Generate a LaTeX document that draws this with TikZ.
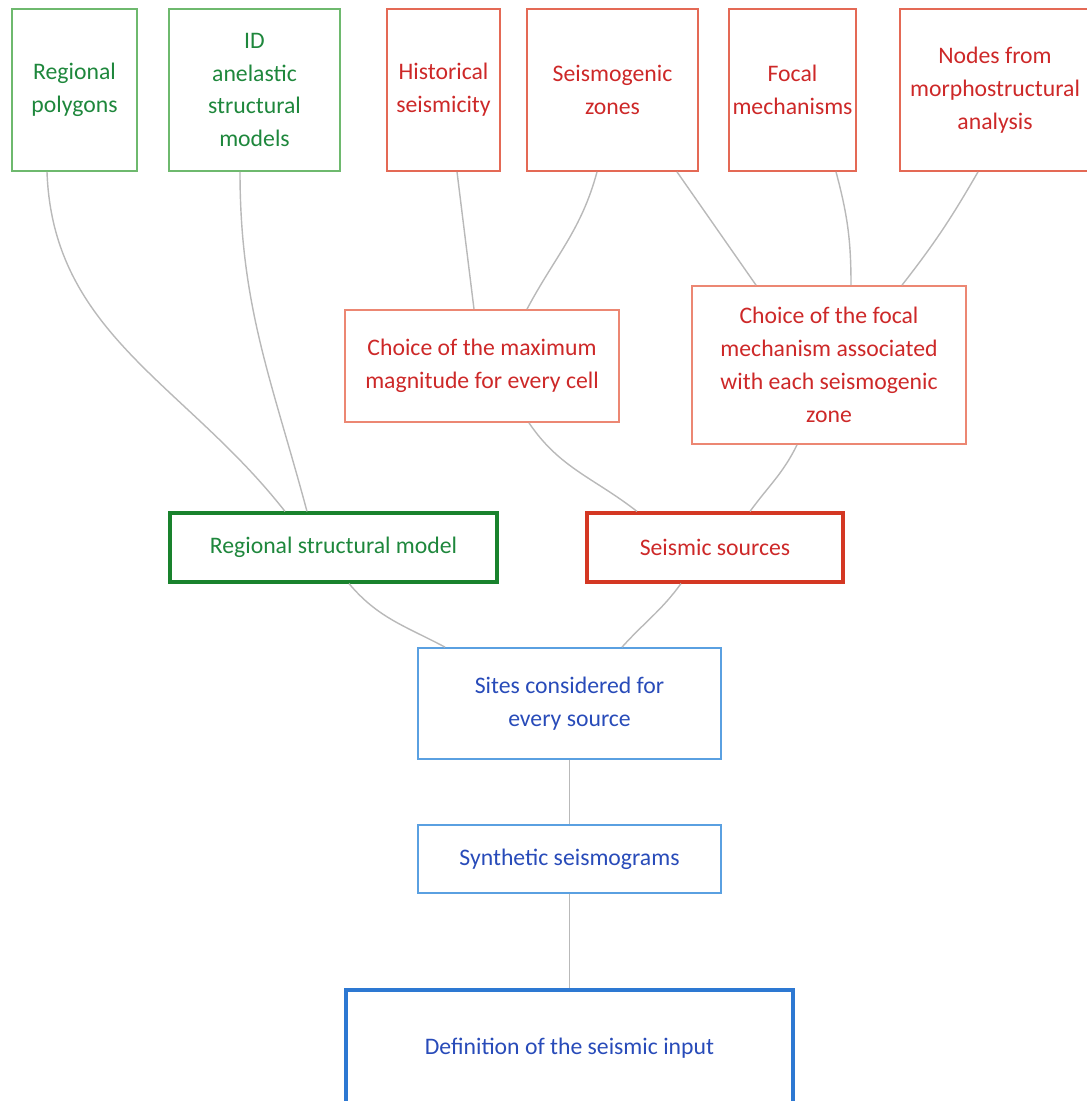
\documentclass[tikz,border=0pt]{standalone}
\usepackage{fontspec}
\setmainfont{Carlito}
\usepackage{xcolor}
\usepackage{tikz}
\usetikzlibrary{positioning, calc}

\definecolor{grnline}{RGB}{110,185,110}
\definecolor{grndark}{RGB}{25,130,45}
\definecolor{grntext}{RGB}{30,135,60}
\definecolor{redline}{RGB}{228,105,85}
\definecolor{redlight}{RGB}{236,135,115}
\definecolor{reddark}{RGB}{212,55,35}
\definecolor{redtext}{RGB}{205,40,40}
\definecolor{blueline}{RGB}{90,160,225}
\definecolor{bluedark}{RGB}{45,120,210}
\definecolor{bluetext}{RGB}{40,75,185}
\definecolor{linkgray}{RGB}{185,185,185}

\begin{document}
\begin{tikzpicture}[
    x=0.02cm, y=0.02cm,
    box/.style={rectangle, draw, align=center, inner sep=2pt, font=\fontsize{13.5}{18.7}\selectfont, line width=1pt},
    top/.style={box, minimum height=3.24cm},
    heavy/.style={box, line width=1.8pt},
    link/.style={draw=linkgray, line width=0.8pt}
]
\useasboundingbox (0,0) rectangle (1086,-1101);

% Top row - input data
\node[top, draw=grnline, text=grntext, minimum width=2.5cm] (poly) at (74.5,-90) {Regional\\polygons};
\node[top, draw=grnline, text=grntext, minimum width=3.42cm] (model1d) at (254.5,-90) {ID\\anelastic\\structural\\models};
\node[top, draw=redline, text=redtext, minimum width=2.26cm] (hist) at (443.5,-90) {Historical\\seismicity};
\node[top, draw=redline, text=redtext, minimum width=3.42cm] (zones) at (612.5,-90) {Seismogenic\\zones};
\node[top, draw=redline, text=redtext, minimum width=2.46cm] (focal) at (792.5,-90) {Focal\\mechanisms};
\node[top, draw=redline, text=redtext, minimum width=3.8cm] (morpho) at (995,-90) {Nodes from\\morphostructural\\analysis};

% Middle row - choices
\node[box, draw=redlight, text=redtext, minimum width=5.48cm, minimum height=2.24cm] (maxmag) at (482,-366) {Choice of the maximum\\magnitude for every cell};
\node[box, draw=redlight, text=redtext, minimum width=5.48cm, minimum height=3.16cm] (focalzone) at (829,-365) {Choice of the focal\\mechanism associated\\with each seismogenic\\zone};

% Models and sources
\node[heavy, draw=grndark, text=grntext, minimum width=6.54cm, minimum height=1.38cm] (regmodel) at (333.5,-547.5) {Regional structural model};
\node[heavy, draw=reddark, text=redtext, minimum width=5.12cm, minimum height=1.38cm] (sources) at (715,-547.5) {Seismic sources};

% Bottom chain
\node[box, draw=blueline, text=bluetext, minimum width=6.06cm, minimum height=2.22cm] (sites) at (569.5,-703.5) {Sites considered for\\every source};
\node[box, draw=blueline, text=bluetext, minimum width=6.06cm, minimum height=1.36cm] (synth) at (569.5,-859) {Synthetic seismograms};
\node[heavy, draw=bluedark, text=bluetext, minimum width=8.94cm, minimum height=2.32cm] (input) at (569.5,-1048) {Definition of the seismic input};

% Links
\draw[link] ($(poly.south)+(-27.5,0)$) to[out=-88,in=128] ($(regmodel.north)+(-48.5,0)$);
\draw[link] ($(model1d.south)+(-14.5,0)$) to[out=-90,in=105] ($(regmodel.north)+(-26.5,0)$);
\draw[link] ($(hist.south)+(13.5,0)$) -- ($(maxmag.north)+(-8,0)$);
\draw[link] ($(zones.south)+(-15.5,0)$) to[out=-105,in=62] ($(maxmag.north)+(45,0)$);
\draw[link] ($(zones.south)+(64.5,0)$) -- ($(focalzone.north)+(-73,0)$);
\draw[link] ($(focal.south)+(43.5,0)$) to[out=-75,in=90] ($(focalzone.north)+(22,0)$);
\draw[link] ($(morpho.south)+(-17,0)$) to[out=-120,in=52] ($(focalzone.north)+(73,0)$);
\draw[link] ($(maxmag.south)+(47,0)$) to[out=-56,in=142] ($(sources.north)+(-78,0)$);
\draw[link] ($(focalzone.south)+(-32,0)$) to[out=-116,in=54] ($(sources.north)+(35,0)$);
\draw[link] ($(regmodel.south)+(15.5,0)$) to[out=-50,in=152] ($(sites.north)+(-124.5,0)$);
\draw[link] ($(sources.south)+(-34,0)$) to[out=-126,in=48] ($(sites.north)+(52.5,0)$);
\draw[link] (sites) -- (synth);
\draw[link] (synth) -- (input);

\end{tikzpicture}
\end{document}
